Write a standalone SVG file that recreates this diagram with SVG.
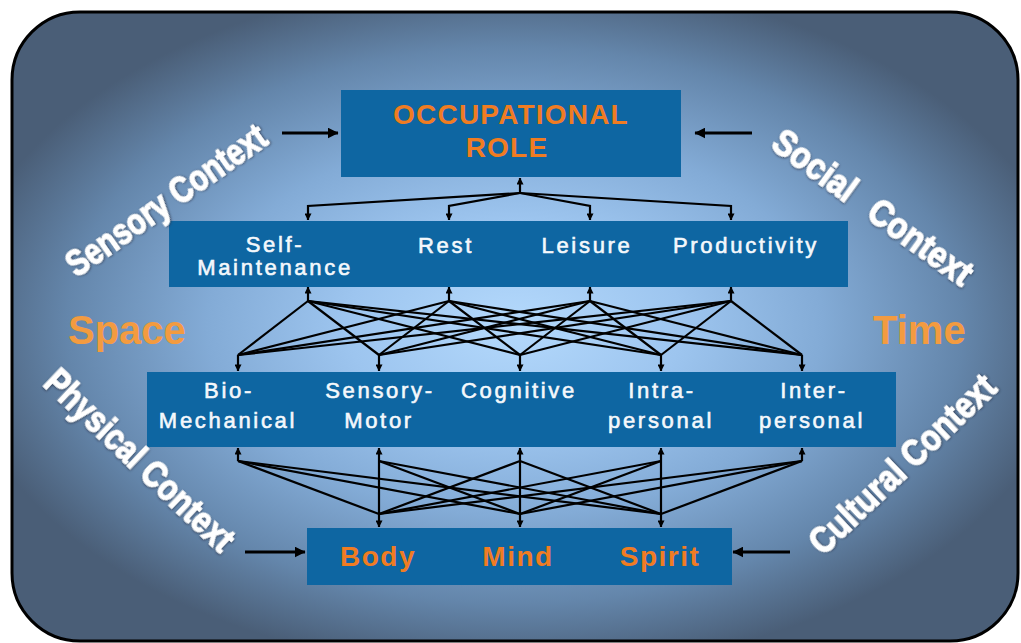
<svg xmlns="http://www.w3.org/2000/svg" width="1021" height="643" viewBox="0 0 1021 643">
<defs>
<radialGradient id="bg" gradientUnits="userSpaceOnUse" cx="515" cy="325" r="560" gradientTransform="translate(0,325) scale(1,0.62) translate(0,-325)">
<stop offset="0" stop-color="#b4d9fc"/>
<stop offset="0.3" stop-color="#9dc5ef"/>
<stop offset="0.55" stop-color="#83abd6"/>
<stop offset="0.8" stop-color="#6486ab"/>
<stop offset="1" stop-color="#4a5e77"/>
</radialGradient>
<filter id="sh" x="-10%" y="-30%" width="120%" height="160%">
<feDropShadow dx="0.8" dy="0.8" stdDeviation="0.9" flood-color="#2a3648" flood-opacity="0.8"/>
</filter>
<marker id="ah" viewBox="0 0 8 8" refX="7.5" refY="4" markerWidth="7" markerHeight="7" markerUnits="userSpaceOnUse" orient="auto">
<path d="M0,0 L8,4 L0,8 z" fill="#000"/>
</marker>
<marker id="ahb" viewBox="0 0 10 10" refX="9.5" refY="5" markerWidth="11" markerHeight="11" markerUnits="userSpaceOnUse" orient="auto">
<path d="M0,0 L10,5 L0,10 z" fill="#000"/>
</marker>
<style>
.box{fill:#0e66a2}
.wt{font-family:"Liberation Sans",Arial,sans-serif;font-weight:normal;font-size:22px;fill:#f4f8fc;stroke:#f4f8fc;stroke-width:0.6px;letter-spacing:2.7px;text-anchor:middle}
.ot{font-family:"Liberation Sans",Arial,sans-serif;font-weight:bold;font-size:28px;fill:#f07c22;text-anchor:middle}
.big{font-family:"Liberation Sans",Arial,sans-serif;font-weight:bold;font-size:40px;fill:#f39b40}
.ctx{font-family:"Liberation Sans",Arial,sans-serif;font-weight:bold;font-size:37px;fill:#ffffff;stroke:#ffffff;stroke-width:1.3px;text-anchor:middle;filter:url(#sh)}
.cn line,.cn polyline{stroke:#000;stroke-width:2.2;fill:none}
.side line{stroke:#000;stroke-width:3}
</style>
</defs>
<rect x="0" y="0" width="1021" height="643" fill="#ffffff"/>
<rect x="12" y="12" width="1006" height="629" rx="68" ry="68" fill="url(#bg)" stroke="#000" stroke-width="3"/>

<g id="connectors" class="cn">
<line x1="520" y1="193" x2="520" y2="178" marker-end="url(#ah)"/>
<polyline points="520,193 308,206 308,220" marker-end="url(#ah)"/>
<polyline points="520,193 449,206 449,220" marker-end="url(#ah)"/>
<polyline points="520,193 590,206 590,220" marker-end="url(#ah)"/>
<polyline points="520,193 731,206 731,220" marker-end="url(#ah)"/>
<line x1="308" y1="301" x2="308" y2="287" marker-end="url(#ah)"/>
<line x1="449" y1="301" x2="449" y2="287" marker-end="url(#ah)"/>
<line x1="590" y1="301" x2="590" y2="287" marker-end="url(#ah)"/>
<line x1="731" y1="301" x2="731" y2="287" marker-end="url(#ah)"/>
<line x1="238" y1="355" x2="238" y2="371" marker-end="url(#ah)"/>
<line x1="379" y1="355" x2="379" y2="371" marker-end="url(#ah)"/>
<line x1="520" y1="355" x2="520" y2="371" marker-end="url(#ah)"/>
<line x1="661" y1="355" x2="661" y2="371" marker-end="url(#ah)"/>
<line x1="802" y1="355" x2="802" y2="371" marker-end="url(#ah)"/>
<line x1="308" y1="301" x2="238" y2="355"/><line x1="308" y1="301" x2="379" y2="355"/><line x1="308" y1="301" x2="520" y2="355"/><line x1="308" y1="301" x2="661" y2="355"/><line x1="308" y1="301" x2="802" y2="355"/>
<line x1="449" y1="301" x2="238" y2="355"/><line x1="449" y1="301" x2="379" y2="355"/><line x1="449" y1="301" x2="520" y2="355"/><line x1="449" y1="301" x2="661" y2="355"/><line x1="449" y1="301" x2="802" y2="355"/>
<line x1="590" y1="301" x2="238" y2="355"/><line x1="590" y1="301" x2="379" y2="355"/><line x1="590" y1="301" x2="520" y2="355"/><line x1="590" y1="301" x2="661" y2="355"/><line x1="590" y1="301" x2="802" y2="355"/>
<line x1="731" y1="301" x2="238" y2="355"/><line x1="731" y1="301" x2="379" y2="355"/><line x1="731" y1="301" x2="520" y2="355"/><line x1="731" y1="301" x2="661" y2="355"/><line x1="731" y1="301" x2="802" y2="355"/>
<line x1="238" y1="461" x2="238" y2="448" marker-end="url(#ah)"/>
<line x1="379" y1="461" x2="379" y2="448" marker-end="url(#ah)"/>
<line x1="520" y1="461" x2="520" y2="448" marker-end="url(#ah)"/>
<line x1="661" y1="461" x2="661" y2="448" marker-end="url(#ah)"/>
<line x1="802" y1="461" x2="802" y2="448" marker-end="url(#ah)"/>
<line x1="379" y1="514" x2="379" y2="527" marker-end="url(#ah)"/>
<line x1="520" y1="514" x2="520" y2="527" marker-end="url(#ah)"/>
<line x1="661" y1="514" x2="661" y2="527" marker-end="url(#ah)"/>
<line x1="238" y1="461" x2="379" y2="514"/><line x1="238" y1="461" x2="520" y2="514"/><line x1="238" y1="461" x2="661" y2="514"/>
<line x1="379" y1="461" x2="379" y2="514"/><line x1="379" y1="461" x2="520" y2="514"/><line x1="379" y1="461" x2="661" y2="514"/>
<line x1="520" y1="461" x2="379" y2="514"/><line x1="520" y1="461" x2="520" y2="514"/><line x1="520" y1="461" x2="661" y2="514"/>
<line x1="661" y1="461" x2="379" y2="514"/><line x1="661" y1="461" x2="520" y2="514"/><line x1="661" y1="461" x2="661" y2="514"/>
<line x1="802" y1="461" x2="379" y2="514"/><line x1="802" y1="461" x2="520" y2="514"/><line x1="802" y1="461" x2="661" y2="514"/>
</g>

<g id="side-arrows" class="side">
<line x1="282" y1="133" x2="338" y2="133" marker-end="url(#ahb)"/>
<line x1="752" y1="133" x2="695" y2="133" marker-end="url(#ahb)"/>
<line x1="245" y1="552" x2="305" y2="552" marker-end="url(#ahb)"/>
<line x1="790" y1="552" x2="733" y2="552" marker-end="url(#ahb)"/>
</g>

<g id="occupational-role">
<rect class="box" x="341" y="90" width="340" height="87"/>
<text class="ot" x="511" y="124" style="letter-spacing:1.2px">OCCUPATIONAL</text>
<text class="ot" x="507" y="157" style="letter-spacing:1.2px">ROLE</text>
</g>

<g id="occupations">
<rect class="box" x="169" y="221" width="679" height="66"/>
<text class="wt" x="275" y="252">Self-</text>
<text class="wt" x="275" y="275">Maintenance</text>
<text class="wt" x="446" y="253">Rest</text>
<text class="wt" x="587" y="253">Leisure</text>
<text class="wt" x="746" y="253">Productivity</text>
</g>

<g id="performance-components">
<rect class="box" x="147" y="372" width="749" height="75"/>
<text class="wt" x="229" y="398">Bio-</text>
<text class="wt" x="228" y="428">Mechanical</text>
<text class="wt" x="380" y="398">Sensory-</text>
<text class="wt" x="379" y="428">Motor</text>
<text class="wt" x="519" y="398">Cognitive</text>
<text class="wt" x="662" y="398">Intra-</text>
<text class="wt" x="661" y="428">personal</text>
<text class="wt" x="814" y="398">Inter-</text>
<text class="wt" x="812" y="428">personal</text>
</g>

<g id="body-mind-spirit">
<rect class="box" x="307" y="528" width="425" height="57"/>
<text class="ot" x="378" y="566" style="letter-spacing:1.5px">Body</text>
<text class="ot" x="518" y="566" style="letter-spacing:1.5px">Mind</text>
<text class="ot" x="660" y="566" style="letter-spacing:1.5px">Spirit</text>
</g>

<g id="space"><text class="big" x="68" y="344">Space</text></g>
<g id="time"><text class="big" x="873" y="344">Time</text></g>

<g id="sensory-context"><text class="ctx" transform="translate(166,200) rotate(-35)" x="0" y="13" textLength="236" lengthAdjust="spacingAndGlyphs">Sensory Context</text></g>
<g id="social-context"><text class="ctx" transform="translate(873,207) rotate(36)" x="0" y="13" textLength="238" lengthAdjust="spacingAndGlyphs" word-spacing="16">Social Context</text></g>
<g id="physical-context"><text class="ctx" transform="translate(140,460) rotate(43.5)" x="0" y="13" textLength="246" lengthAdjust="spacingAndGlyphs">Physical Context</text></g>
<g id="cultural-context"><text class="ctx" transform="translate(902,464) rotate(-43.5)" x="0" y="13" textLength="242" lengthAdjust="spacingAndGlyphs">Cultural Context</text></g>
</svg>
